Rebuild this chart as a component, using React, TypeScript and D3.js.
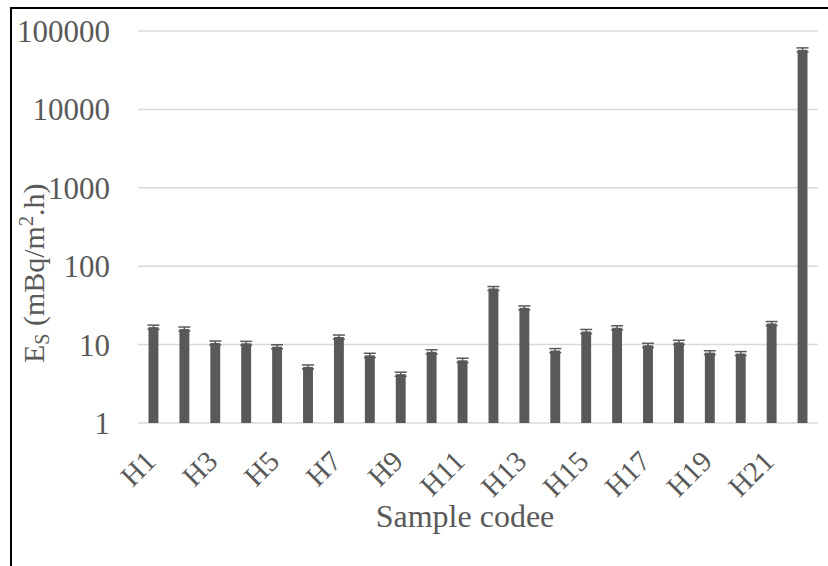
import React, { useEffect, useRef } from 'react';
import * as d3 from 'd3';

const samples = ['H1', 'H2', 'H3', 'H4', 'H5', 'H6', 'H7', 'H8', 'H9', 'H10', 'H11', 'H12', 'H13', 'H14', 'H15', 'H16', 'H17', 'H18', 'H19', 'H20', 'H21', 'H22'];
const exhalation = [16.7, 15.8, 10.5, 10.4, 9.4, 5.2, 12.5, 7.3, 4.2, 8.1, 6.3, 52, 29.4, 8.4, 14.7, 16.4, 9.8, 10.7, 7.9, 7.7, 18.6, 57500];
const errors = [1.0, 0.95, 0.6, 0.6, 0.55, 0.3, 0.75, 0.45, 0.25, 0.5, 0.4, 3.0, 1.7, 0.5, 0.9, 1.0, 0.6, 0.65, 0.45, 0.45, 1.1, 3400];
const yTicks = [1, 10, 100, 1000, 10000, 100000];

const App = () => {
  const svgRef = useRef<SVGSVGElement>(null);

  useEffect(() => {
    const width = 828;
    const height = 566;
    const margin = { top: 31, right: 10, bottom: 143, left: 138 };
    const font = '"Liberation Serif", "Times New Roman", serif';
    const grey = '#595959';

    const svg = d3.select(svgRef.current);
    svg.selectAll('*').remove(); // Clear previous content
    svg.attr('viewBox', [0, 0, width, height]);

    svg.append('rect')
    .attr('width', width)
    .attr('height', height)
    .attr('fill', 'white');

    // outer frame (right and bottom edges fall outside the picture)
    svg.append('rect')
    .attr('x', 11)
    .attr('y', 8)
    .attr('width', width + 20)
    .attr('height', height + 20)
    .attr('fill', 'none')
    .attr('stroke', 'black')
    .attr('stroke-width', 2);

    const data = samples.map((s, i) => ({ name: s, value: exhalation[i], err: errors[i] }));

    const x = d3.scaleBand()
    .domain(samples)
    .range([margin.left, width - margin.right])
    .paddingInner(0.68)
    .paddingOuter(0.34);

    const y = d3.scaleLog()
    .domain([1, 100000])
    .range([height - margin.bottom, margin.top]);

    // gridlines
    svg.append('g')
    .selectAll('line')
    .data(yTicks)
    .join('line')
    .attr('x1', margin.left)
    .attr('x2', width - margin.right)
    .attr('y1', d => y(d))
    .attr('y2', d => y(d))
    .attr('stroke', '#d9d9d9')
    .attr('stroke-width', 1.5);

    // y tick labels
    svg.append('g')
    .selectAll('text')
    .data(yTicks)
    .join('text')
    .attr('x', 110)
    .attr('y', d => y(d) + 11)
    .attr('text-anchor', 'end')
    .attr('font-family', font)
    .attr('font-size', 31)
    .attr('fill', grey)
    .text(d => String(d));

    // bars
    svg.append('g')
    .selectAll('rect')
    .data(data)
    .join('rect')
    .attr('x', d => x(d.name)!)
    .attr('y', d => y(d.value))
    .attr('width', x.bandwidth())
    .attr('height', d => y(1) - y(d.value))
    .attr('fill', grey);

    // error bars
    const eb = svg.append('g')
    .attr('stroke', grey)
    .attr('stroke-width', 1.5);
    data.forEach(d => {
      const cx = x(d.name)! + x.bandwidth() / 2;
      const hi = y(d.value + d.err);
      const lo = y(d.value - d.err);
      eb.append('line').attr('x1', cx).attr('x2', cx).attr('y1', hi).attr('y2', lo);
      eb.append('line').attr('x1', cx - 6).attr('x2', cx + 6).attr('y1', hi).attr('y2', hi);
      eb.append('line').attr('x1', cx - 6).attr('x2', cx + 6).attr('y1', lo).attr('y2', lo);
    });

    // x tick labels (every second category)
    svg.append('g')
    .selectAll('text')
    .data(samples.filter((_, i) => i % 2 === 0))
    .join('text')
    .attr('transform', d => `translate(${x(d)! + x.bandwidth() / 2 + 4},${height - margin.bottom + 40}) rotate(-45)`)
    .attr('text-anchor', 'end')
    .attr('font-family', font)
    .attr('font-size', 29)
    .attr('fill', grey)
    .text(d => d);

    // axis titles
    svg.append('text')
    .attr('x', 465)
    .attr('y', 527)
    .attr('text-anchor', 'middle')
    .attr('font-family', font)
    .attr('font-size', 32)
    .attr('fill', grey)
    .text('Sample codee');

    const yt = svg.append('text')
    .attr('transform', 'translate(44,363) rotate(-90)')
    .attr('text-anchor', 'start')
    .attr('font-family', font)
    .attr('font-size', 30)
    .attr('fill', grey);
    yt.append('tspan').text('E');
    yt.append('tspan').attr('font-size', 20).attr('dy', 5).text('S');
    yt.append('tspan').attr('dy', -5).text(' (mBq/m');
    yt.append('tspan').attr('font-size', 20).attr('dy', -11).text('2');
    yt.append('tspan').attr('dy', 11).text('.h)');
  });

  return (
    <svg ref={svgRef} width={828} height={566} style={{ position: 'absolute', left: 0, top: 0, display: 'block' }}></svg>
  );
};

export default App;
